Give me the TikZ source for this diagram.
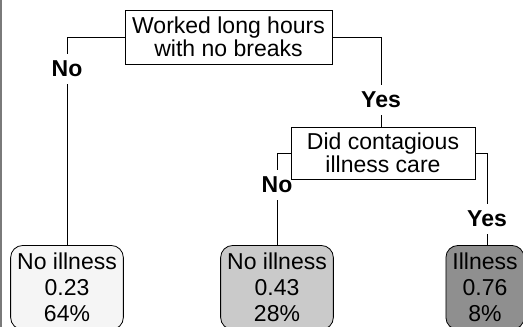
\documentclass[tikz,border=0pt]{standalone}
\usepackage{fontspec}
\setmainfont{Liberation Sans}
\usepackage{xcolor}
\usepackage{tikz}

\definecolor{leafa}{HTML}{F5F5F5}
\definecolor{leafb}{HTML}{CACACA}
\definecolor{leafc}{HTML}{8F8F8F}
\definecolor{edgegray}{HTML}{7A7A7A}

\begin{document}
\begin{tikzpicture}[x=1pt,y=-1pt,line width=0.8pt]
        \fontsize{23}{23.5}\selectfont

        \tikzstyle{splitbox}=[draw,fill=white,align=center,inner sep=0pt,minimum height=54pt]
        \tikzstyle{leafbox}=[draw,rounded corners=12pt,align=center,font=\fontsize{23}{26}\selectfont,inner xsep=6.5pt,inner ysep=0pt,minimum height=84pt]
        \tikzstyle{branch}=[font=\bfseries,inner sep=0pt,minimum height=30pt]

        \path[use as bounding box,clip] (0,0) rectangle (523,327);
        % \draw[red] (0,0) rectangle (523,327);

        %% Left border strip
        \fill[edgegray] (0,0) rectangle (2.2,327);

        %% Split nodes
        \node [splitbox,minimum width=207pt] (hours) at (228.5,37) {Worked long hours\\with no breaks};
        \node [splitbox,minimum width=184pt,minimum height=52pt] (care) at (383,153) {Did contagious\\illness care};

        %% Branch labels
        \node [branch] (no1) at (67,69) {No};
        \node [branch] (yes1) at (381,100) {Yes};
        \node [branch] (no2) at (277,185) {No};
        \node [branch] (yes2) at (487,219) {Yes};

        %% Leaves
        \node [leafbox,fill=leafa] (leaf1) at (67,287.5) {No illness\\0.23\\64\%};
        \node [leafbox,fill=leafb] (leaf2) at (277,287.5) {No illness\\0.43\\28\%};
        \node [leafbox,fill=leafc] (leaf3) at (485,287.5) {Illness\\0.76\\8\%};

        %% Edges
        \draw (hours.west) -| (no1.north);
        \draw (no1.south) -- (leaf1.north);
        \draw (hours.east) -| (yes1.north);
        \draw (yes1.south) -- (yes1.south |- care.north);
        \draw (care.west) -| (no2.north);
        \draw (no2.south) -- (leaf2.north);
        \draw (care.east) -| (yes2.north);
        \draw (yes2.south) -- (yes2.south |- leaf3.north);

    \end{tikzpicture}
\end{document}
